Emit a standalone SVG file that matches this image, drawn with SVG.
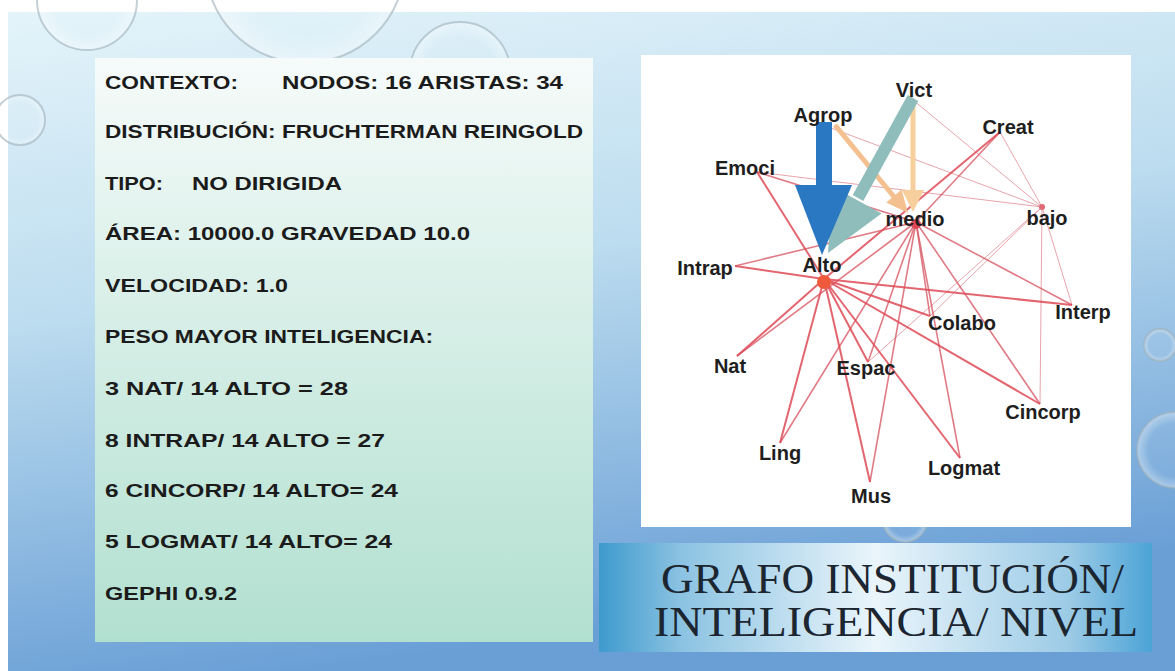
<svg xmlns="http://www.w3.org/2000/svg" width="1175" height="671" viewBox="0 0 1175 671">
<defs>
<linearGradient id="bg" x1="0" y1="0" x2="0.25" y2="1">
<stop offset="0" stop-color="#e4f4fa"/>
<stop offset="0.45" stop-color="#bcdcef"/>
<stop offset="1" stop-color="#6a9fd6"/>
</linearGradient>
<linearGradient id="panel" x1="0" y1="0" x2="0" y2="1">
<stop offset="0" stop-color="#f6fbfa"/>
<stop offset="0.5" stop-color="#d3ede5"/>
<stop offset="1" stop-color="#b2e0d0"/>
</linearGradient>
<linearGradient id="band" x1="0" y1="0" x2="1" y2="0">
<stop offset="0" stop-color="#3e9acd"/>
<stop offset="0.15" stop-color="#8cc3e2"/>
<stop offset="0.5" stop-color="#eaf5fb"/>
<stop offset="0.85" stop-color="#9ccbe6"/>
<stop offset="1" stop-color="#4ba3d6"/>
</linearGradient>
<radialGradient id="bub" cx="0.5" cy="0.5" r="0.5">
<stop offset="0.7" stop-color="#ffffff" stop-opacity="0.05"/>
<stop offset="1" stop-color="#ffffff" stop-opacity="0.4"/>
</radialGradient>
<style>
.info{font-family:"Liberation Sans",Arial,sans-serif;font-weight:bold;font-size:19px;fill:#1b1b1b}
.lbl{font-family:"Liberation Sans",Arial,sans-serif;font-weight:bold;font-size:20px;fill:#1e1e1e;text-anchor:middle}
.ttl{font-family:"Liberation Serif","Times New Roman",serif;font-size:42px;fill:#1c2630}
.bubble{fill:url(#bub);stroke:#9fb1bb;stroke-width:2;stroke-opacity:0.6}
.ea{stroke:#de4a56;stroke-width:2;stroke-opacity:0.85;fill:none}
.em{stroke:#d85a66;stroke-width:1.6;stroke-opacity:0.8;fill:none}
.eb{stroke:#e49aa2;stroke-width:1;stroke-opacity:0.9;fill:none}
</style>
</defs>
<rect width="1175" height="671" fill="#ffffff"/>
<rect x="8" y="12" width="1167" height="659" fill="url(#bg)"/>
<g id="bubbles">
<circle class="bubble" cx="87" cy="0" r="50"/>
<circle class="bubble" cx="305" cy="-37" r="100"/>
<circle class="bubble" cx="460" cy="72" r="50" stroke-opacity="0.3"/>
<circle class="bubble" cx="20" cy="120" r="25"/>
<circle class="bubble" cx="1160" cy="345" r="16" stroke-opacity="0.4"/>
<circle class="bubble" cx="1175" cy="450" r="38" stroke-opacity="0.4"/>
<circle class="bubble" cx="905" cy="520" r="22" stroke-opacity="0.4"/>
</g>
<g id="info-panel">
<rect x="95" y="58" width="498" height="584" fill="url(#panel)"/>
<text class="info" x="105" y="89" textLength="133" lengthAdjust="spacingAndGlyphs">CONTEXTO:</text>
<text class="info" x="282" y="89" textLength="281" lengthAdjust="spacingAndGlyphs">NODOS: 16  ARISTAS: 34</text>
<text class="info" x="105" y="138" textLength="478" lengthAdjust="spacingAndGlyphs">DISTRIBUCIÓN: FRUCHTERMAN REINGOLD</text>
<text class="info" x="105" y="190" textLength="58" lengthAdjust="spacingAndGlyphs">TIPO:</text>
<text class="info" x="192" y="190" textLength="150" lengthAdjust="spacingAndGlyphs">NO DIRIGIDA</text>
<text class="info" x="105" y="240" textLength="365" lengthAdjust="spacingAndGlyphs">ÁREA: 10000.0 GRAVEDAD 10.0</text>
<text class="info" x="105" y="292" textLength="183" lengthAdjust="spacingAndGlyphs">VELOCIDAD: 1.0</text>
<text class="info" x="105" y="343" textLength="328" lengthAdjust="spacingAndGlyphs">PESO MAYOR INTELIGENCIA:</text>
<text class="info" x="105" y="395" textLength="243" lengthAdjust="spacingAndGlyphs">3 NAT/ 14 ALTO = 28</text>
<text class="info" x="105" y="447" textLength="280" lengthAdjust="spacingAndGlyphs">8 INTRAP/ 14 ALTO = 27</text>
<text class="info" x="105" y="497" textLength="293" lengthAdjust="spacingAndGlyphs">6 CINCORP/ 14 ALTO= 24</text>
<text class="info" x="105" y="548" textLength="287" lengthAdjust="spacingAndGlyphs">5 LOGMAT/ 14 ALTO= 24</text>
<text class="info" x="105" y="600" textLength="132" lengthAdjust="spacingAndGlyphs">GEPHI 0.9.2</text>
</g>
<g id="title-band">
<rect x="599" y="543" width="553" height="109" fill="url(#band)"/>
<text class="ttl" x="661" y="593" textLength="463" lengthAdjust="spacingAndGlyphs">GRAFO INSTITUCIÓN/</text>
<text class="ttl" x="654" y="636" textLength="484" lengthAdjust="spacingAndGlyphs">INTELIGENCIA/ NIVEL</text>
</g>
<rect id="graph-panel" x="641" y="55" width="490" height="472" fill="#ffffff"/>
<g id="connectors">
<line class="eb" x1="1042" y1="207" x2="823" y2="125"/>
<line class="eb" x1="1042" y1="207" x2="913" y2="100"/>
<line class="eb" x1="1042" y1="207" x2="757" y2="172"/>
<line class="eb" x1="1042" y1="207" x2="1000" y2="132"/>
<line class="eb" x1="1042" y1="207" x2="1072" y2="305"/>
<line class="eb" x1="1042" y1="207" x2="1040" y2="404"/>
<line class="eb" x1="1042" y1="207" x2="930" y2="316"/>
<line class="eb" x1="1042" y1="207" x2="868" y2="362"/>
<line class="em" x1="916" y1="222" x2="757" y2="172"/>
<line class="em" x1="916" y1="222" x2="1000" y2="132"/>
<line class="em" x1="916" y1="222" x2="735" y2="266"/>
<line class="em" x1="916" y1="222" x2="737" y2="356"/>
<line class="em" x1="916" y1="222" x2="780" y2="443"/>
<line class="em" x1="916" y1="222" x2="870" y2="482"/>
<line class="em" x1="916" y1="222" x2="868" y2="362"/>
<line class="em" x1="916" y1="222" x2="930" y2="316"/>
<line class="em" x1="916" y1="222" x2="1040" y2="404"/>
<line class="em" x1="916" y1="222" x2="960" y2="458"/>
<line class="em" x1="916" y1="222" x2="1072" y2="305"/>
<line class="ea" x1="824" y1="279" x2="757" y2="172"/>
<line class="ea" x1="824" y1="279" x2="1000" y2="132"/>
<line class="ea" x1="824" y1="279" x2="735" y2="266"/>
<line class="ea" x1="824" y1="279" x2="737" y2="356"/>
<line class="ea" x1="824" y1="279" x2="780" y2="443"/>
<line class="ea" x1="824" y1="279" x2="870" y2="482"/>
<line class="ea" x1="824" y1="279" x2="868" y2="362"/>
<line class="ea" x1="824" y1="279" x2="930" y2="316"/>
<line class="ea" x1="824" y1="279" x2="1040" y2="404"/>
<line class="ea" x1="824" y1="279" x2="960" y2="458"/>
<line class="ea" x1="824" y1="279" x2="1072" y2="305"/>
<line x1="835" y1="125" x2="895" y2="198" stroke="#f4c08f" stroke-width="5"/>
<polygon points="908,213 901.6,189.6 886.2,202.4" fill="#f4c08f"/>
<line x1="913" y1="100" x2="913" y2="192" stroke="#f6cf9c" stroke-width="5"/>
<polygon points="913,212 902,190 924,190" fill="#f6cf9c"/>
<line x1="913" y1="98" x2="858" y2="198" stroke="#8fbdbb" stroke-width="12"/>
<polygon points="828,253 832.5,186.5 881.5,213.5" fill="#8fbdbb"/>
<rect x="816" y="122" width="16" height="64" fill="#2a78c2"/>
<polygon points="795,185 852,185 822,255" fill="#2a78c2"/>
</g>
<g id="node-alto"><circle cx="824" cy="282" r="7" fill="#ef5a3c"/><text class="lbl" x="822" y="272">Alto</text></g>
<g id="node-medio"><circle cx="916" cy="224" r="5" fill="#de4656"/><text class="lbl" x="915" y="226">medio</text></g>
<g id="node-bajo"><circle cx="1042" cy="207" r="3" fill="#e06a76"/><text class="lbl" x="1047" y="225">bajo</text></g>
<g id="node-agrop"><text class="lbl" x="823" y="122">Agrop</text></g>
<g id="node-vict"><text class="lbl" x="914" y="97">Vict</text></g>
<g id="node-creat"><text class="lbl" x="1008" y="134">Creat</text></g>
<g id="node-emoci"><text class="lbl" x="745" y="175">Emoci</text></g>
<g id="node-intrap"><text class="lbl" x="705" y="275">Intrap</text></g>
<g id="node-colabo"><text class="lbl" x="962" y="330">Colabo</text></g>
<g id="node-interp"><text class="lbl" x="1083" y="319">Interp</text></g>
<g id="node-nat"><text class="lbl" x="730" y="373">Nat</text></g>
<g id="node-espac"><text class="lbl" x="866" y="375">Espac</text></g>
<g id="node-cincorp"><text class="lbl" x="1043" y="419">Cincorp</text></g>
<g id="node-ling"><text class="lbl" x="780" y="460">Ling</text></g>
<g id="node-logmat"><text class="lbl" x="964" y="475">Logmat</text></g>
<g id="node-mus"><text class="lbl" x="871" y="503">Mus</text></g>
</svg>
